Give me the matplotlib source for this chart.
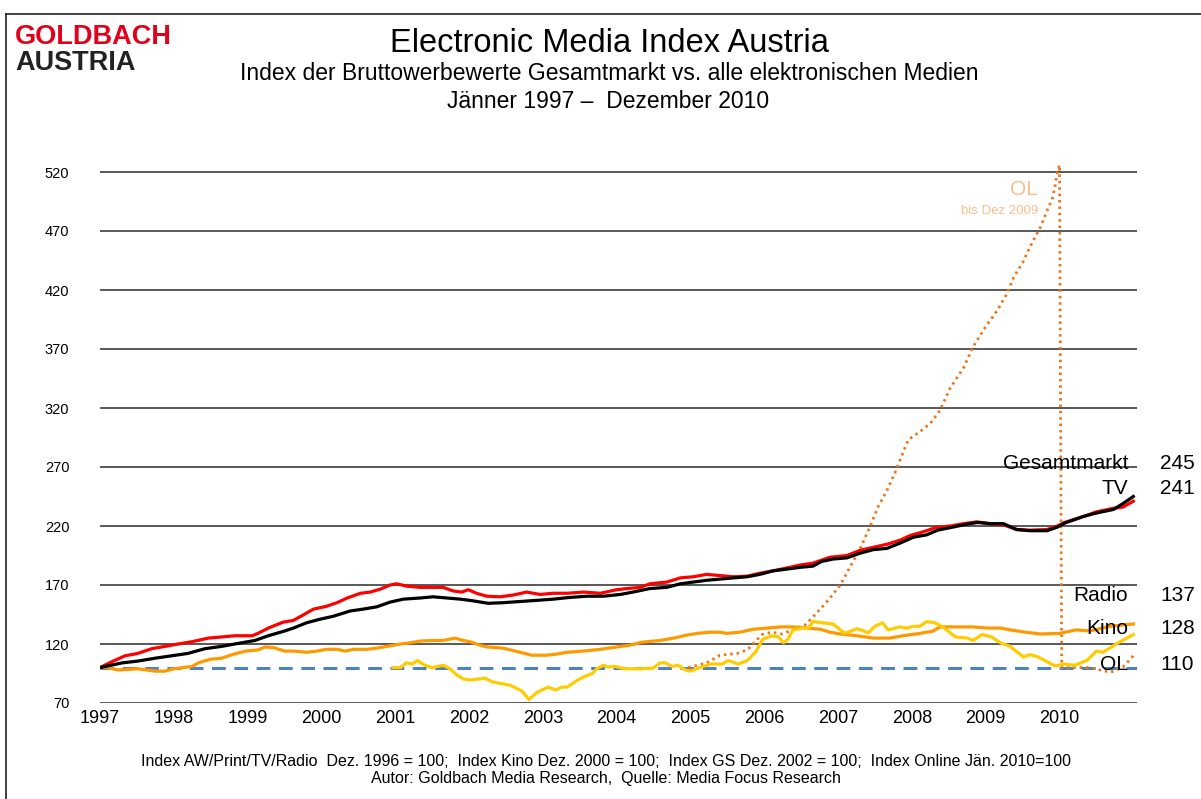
import matplotlib
matplotlib.use('Agg')
import matplotlib.pyplot as plt
from matplotlib.lines import Line2D

plt.rcParams['font.family'] = ['Liberation Sans', 'DejaVu Sans']

# Daten (Index)
tv_t = [1997.00, 1997.16, 1997.34, 1997.51, 1997.70, 1997.88, 1998.06, 1998.25, 1998.47, 1998.65,
        1998.83, 1999.06, 1999.14, 1999.28, 1999.48, 1999.62, 1999.75, 1999.89, 2000.07, 2000.21,
        2000.35, 2000.53, 2000.66, 2000.80, 2000.93, 2001.02, 2001.16, 2001.34, 2001.51, 2001.65,
        2001.78, 2001.90, 2001.99, 2002.10, 2002.24, 2002.42, 2002.60, 2002.78, 2002.96, 2003.14,
        2003.33, 2003.55, 2003.78, 2004.00, 2004.14, 2004.32, 2004.45, 2004.68, 2004.86, 2005.04,
        2005.22, 2005.40, 2005.58, 2005.77, 2005.94, 2006.12, 2006.31, 2006.49, 2006.66, 2006.89,
        2007.12, 2007.30, 2007.48, 2007.66, 2007.84, 2007.98, 2008.15, 2008.34, 2008.52, 2008.70,
        2008.88, 2009.06, 2009.24, 2009.42, 2009.60, 2009.83, 2009.97, 2010.07, 2010.32, 2010.50,
        2010.73, 2010.86, 2011.00]
tv_v = [100, 105, 110, 112, 116, 118, 120, 122, 125, 126,
        127, 127, 129, 133.5, 138.5, 140, 144.5, 149.5, 152, 155,
        159, 163, 164, 166.5, 170, 171, 169, 168, 168, 168,
        165, 164, 166, 163, 160.5, 160, 161.5, 164, 162, 163,
        163, 164, 163, 166, 167, 168, 171, 172.5, 176, 177,
        179, 178, 177, 177.5, 180, 182, 184.5, 187, 188.5, 193.5,
        195, 199.5, 202, 204.5, 208, 212, 215, 219, 220, 222,
        223.5, 222, 221, 217, 216.5, 217, 220, 223, 228, 232,
        235, 236, 241]

gs_t = [1997.00, 1997.30, 1997.51, 1997.75, 1997.97, 1998.19, 1998.42, 1998.65, 1998.87, 1999.10,
        1999.28, 1999.50, 1999.62, 1999.80, 1999.98, 2000.16, 2000.39, 2000.56, 2000.75, 2000.93,
        2001.11, 2001.34, 2001.51, 2001.70, 2001.88, 2002.01, 2002.26, 2002.46, 2002.69, 2002.92,
        2003.14, 2003.37, 2003.60, 2003.82, 2004.05, 2004.22, 2004.45, 2004.68, 2004.86, 2005.04,
        2005.22, 2005.40, 2005.58, 2005.77, 2005.94, 2006.12, 2006.31, 2006.49, 2006.66, 2006.78,
        2006.93, 2007.12, 2007.30, 2007.48, 2007.66, 2007.84, 2008.02, 2008.20, 2008.35, 2008.55,
        2008.74, 2008.89, 2009.06, 2009.24, 2009.42, 2009.60, 2009.83, 2009.97, 2010.07, 2010.32,
        2010.50, 2010.73, 2010.86, 2011.00]
gs_v = [100, 104, 105.5, 108, 110, 112, 116, 118, 120.5, 123,
        127, 131, 133.5, 138, 141, 143.5, 148, 149.5, 151.5, 155.5,
        158, 159, 160, 159, 158, 157, 154.5, 155, 156, 157,
        158, 159.5, 160.5, 160.5, 162, 164, 167, 168, 171, 172.5,
        174, 175, 176, 177, 179, 182, 183.5, 185, 186, 190,
        192, 193, 197, 200, 201, 205.5, 210.5, 212.5, 216.5, 219,
        221.5, 223, 222, 222, 217, 216, 216, 219, 222.5, 228,
        231, 234, 239, 245]

radio_t = [1997.00, 1997.11, 1997.24, 1997.51, 1997.75, 1997.88, 1998.00, 1998.25, 1998.33, 1998.49,
           1998.65, 1998.79, 1998.97, 1999.14, 1999.24, 1999.35, 1999.50, 1999.62, 1999.80, 1999.94,
           2000.07, 2000.21, 2000.32, 2000.44, 2000.62, 2000.75, 2000.89, 2001.07, 2001.20, 2001.34,
           2001.51, 2001.65, 2001.81, 2001.92, 2002.01, 2002.15, 2002.24, 2002.46, 2002.69, 2002.85,
           2003.05, 2003.19, 2003.33, 2003.55, 2003.78, 2004.00, 2004.18, 2004.34, 2004.59, 2004.77,
           2004.95, 2005.09, 2005.27, 2005.40, 2005.49, 2005.67, 2005.85, 2006.04, 2006.22, 2006.40,
           2006.58, 2006.76, 2006.89, 2007.03, 2007.25, 2007.48, 2007.70, 2007.93, 2008.11, 2008.29,
           2008.38, 2008.47, 2008.65, 2008.83, 2009.02, 2009.20, 2009.33, 2009.54, 2009.74, 2010.00,
           2010.23, 2010.41, 2010.69, 2011.00]
radio_v = [100, 100, 98, 99, 97, 97, 99, 101, 104, 107,
           108, 111, 114, 115, 117.5, 117, 114, 114, 113, 114,
           115.5, 115.5, 114, 115.5, 115.5, 116.5, 118, 120, 121, 122.5,
           123, 123, 125, 123, 122, 119, 117.5, 116.5, 113, 110.5,
           110.5, 111.5, 113, 114, 115.5, 117.5, 119, 121.5, 123, 125,
           127.5, 129, 130, 130, 129, 130, 132.5, 133.5, 134.5, 134.5,
           133.5, 132.5, 130, 128.5, 127, 125, 125, 127.5, 129, 131,
           134.5, 134.5, 134.5, 134.5, 133.5, 133.5, 132, 130, 128.5, 129,
           132, 131, 135, 137]

kino_t = [2000.97, 2001.07, 2001.15, 2001.23, 2001.30, 2001.40, 2001.50, 2001.65, 2001.74, 2001.83,
          2001.92, 2002.01, 2002.22, 2002.31, 2002.56, 2002.72, 2002.81, 2002.92, 2003.07, 2003.17,
          2003.26, 2003.33, 2003.46, 2003.55, 2003.67, 2003.73, 2003.82, 2003.88, 2003.98, 2004.11,
          2004.32, 2004.49, 2004.59, 2004.66, 2004.75, 2004.83, 2004.93, 2005.00, 2005.10, 2005.27,
          2005.43, 2005.51, 2005.65, 2005.77, 2005.88, 2005.98, 2006.10, 2006.19, 2006.26, 2006.32,
          2006.39, 2006.53, 2006.60, 2006.66, 2006.78, 2006.93, 2007.09, 2007.26, 2007.41, 2007.50,
          2007.60, 2007.68, 2007.84, 2007.93, 2008.02, 2008.11, 2008.20, 2008.31, 2008.42, 2008.59,
          2008.75, 2008.83, 2008.95, 2009.08, 2009.20, 2009.33, 2009.51, 2009.60, 2009.71, 2009.83,
          2009.94, 2010.07, 2010.21, 2010.37, 2010.50, 2010.59, 2010.78, 2011.00]
kino_v = [100, 100, 104, 103, 106, 102, 100, 102, 99, 94,
          90.5, 89.5, 91, 88, 85, 80, 73, 79, 83.5, 81,
          83.5, 83.5, 89, 92, 95, 99, 102, 100.5, 101, 99,
          99, 99.5, 104, 104, 101, 102, 98, 97, 99.5, 103,
          103, 106, 103, 106, 113, 124, 127, 126, 121, 124,
          132, 133.5, 133.5, 139, 138, 137, 129, 133, 129.5, 135,
          138, 132, 134.5, 133.5, 135, 135, 139, 138, 134.5, 126,
          125, 123, 128, 126, 121, 118, 109, 111, 109, 105,
          101.5, 103, 102, 106, 114, 113, 120.5, 128]

ol_t = [2004.97, 2005.22, 2005.40, 2005.63, 2005.77, 2005.97, 2006.10, 2006.24, 2006.39, 2006.55,
        2006.66, 2006.78, 2006.89, 2007.03, 2007.16, 2007.30, 2007.43, 2007.54, 2007.66, 2007.77,
        2007.84, 2007.95, 2008.11, 2008.25, 2008.38, 2008.52, 2008.70, 2008.83, 2008.99, 2009.16,
        2009.29, 2009.38, 2009.50, 2009.58, 2009.67, 2009.74, 2009.83, 2009.90, 2009.94, 2009.97,
        2010.00, 2010.03, 2010.15, 2010.41, 2010.69, 2010.86, 2011.00]
ol_v = [100, 104, 110.5, 112, 115, 128, 130, 128.5, 132, 136,
        143, 151, 159, 170, 185, 201, 219, 236, 250, 265,
        276, 293, 300, 307, 318, 337, 354, 372, 388, 403,
        417, 431, 443, 454, 465, 473, 487, 497, 508, 520,
        526, 100, 100, 100, 96, 100.5, 110]

years = list(range(1997, 2011))
yticks = [70, 120, 170, 220, 270, 320, 370, 420, 470, 520]

labels = ['Gesamtmarkt', 'TV', 'Radio', 'Kino', 'OL']
end_values = ['245', '241', '137', '128', '110']
label_y = [273, 252, 161.5, 133.5, 103]

fig = plt.figure(figsize=(12.01, 7.99), dpi=100)
ax = fig.add_axes([100 / 1201, 96 / 799, 1037 / 1201, 560.5 / 799])

ax.set_xlim(1997, 2011.05)
ax.set_ylim(70, 545)
ax.set_yticks(yticks)
ax.set_xticks(years)
ax.set_xticklabels([str(y) for y in years])
ax.tick_params(axis='y', length=0, pad=22, labelsize=10.5)
ax.tick_params(axis='x', length=0, pad=5, labelsize=13)
for s in ax.spines.values():
    s.set_visible(False)
for v in yticks:
    ax.axhline(v, color='#3c3c3c', lw=1.2, zorder=1)

ax.axhline(100, color='#4F81BD', lw=2.2, dashes=(4.5, 2.8), zorder=2)
ax.plot(ol_t, ol_v, color='#E8771E', lw=2.0, linestyle=(0, (0.9, 1.4)), zorder=3)
ax.plot(radio_t, radio_v, color='#FF9900', lw=2.3, zorder=4)
ax.plot(kino_t, kino_v, color='#FFCC00', lw=2.3, zorder=4)
ax.plot(tv_t, tv_v, color='#FF0000', lw=2.3, zorder=5)
ax.plot(gs_t, gs_v, color='#000000', lw=2.3, zorder=6)

for lab, val, yv in zip(labels, end_values, label_y):
    ax.text(2010.93, yv, lab, ha='right', va='center', fontsize=15, zorder=7, clip_on=False)
    ax.text(2011.36, yv, val, ha='left', va='center', fontsize=15, zorder=7, clip_on=False)

ax.text(2009.71, 505, 'OL', ha='right', va='center', fontsize=15, color='#F9BE8E')
ax.text(2009.71, 487, 'bis Dez 2009', ha='right', va='center', fontsize=9.5, color='#F9BE8E')

# Titel
fig.text(609 / 1201, 1 - 43 / 799, 'Electronic Media Index Austria', ha='center', va='center', fontsize=23.5)
fig.text(609 / 1201, 1 - 74 / 799, 'Index der Bruttowerbewerte Gesamtmarkt vs. alle elektronischen Medien',
         ha='center', va='center', fontsize=16.5)
fig.text(608 / 1201, 1 - 101 / 799, 'Jänner 1997 –  Dezember 2010', ha='center', va='center', fontsize=16.5)

# Logo
fig.text(15 / 1201, 1 - 37 / 799, 'GOLDBACH', ha='left', va='center', fontsize=19.5, fontweight='bold',
         color='#E2001A')
fig.text(15 / 1201, 1 - 63 / 799, 'AUSTRIA', ha='left', va='center', fontsize=19.5, fontweight='bold',
         color='#222222')

# Fussnote
fig.text(606 / 1201, 1 - 761 / 799,
         'Index AW/Print/TV/Radio  Dez. 1996 = 100;  Index Kino Dez. 2000 = 100;  '
         'Index GS Dez. 2002 = 100;  Index Online Jän. 2010=100',
         ha='center', va='center', fontsize=11.5)
fig.text(606 / 1201, 1 - 779 / 799, 'Autor: Goldbach Media Research,  Quelle: Media Focus Research',
         ha='center', va='center', fontsize=11.5)

# Rahmen
fig.add_artist(Line2D([6 / 1201, 1.0], [1 - 14 / 799, 1 - 14 / 799], color='#222222', lw=1.2))
fig.add_artist(Line2D([6 / 1201, 6 / 1201], [0.0, 1 - 14 / 799], color='#222222', lw=1.2))

fig.savefig('out.png', dpi=100)
